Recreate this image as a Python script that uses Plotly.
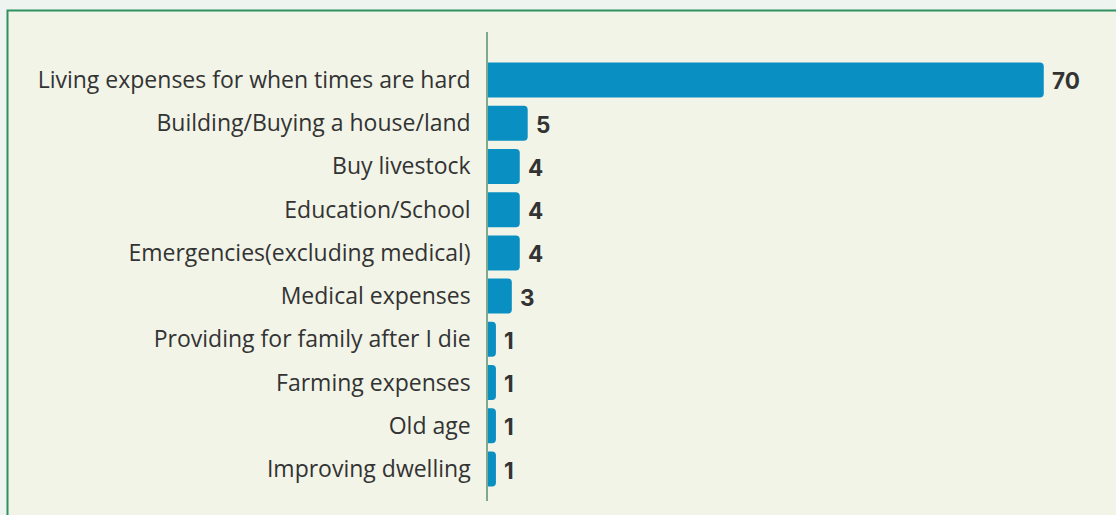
import plotly.graph_objects as go

# Reasons for saving (share of respondents)
categories = [
    "Living expenses for when times are hard",
    "Building/Buying a house/land",
    "Buy livestock",
    "Education/School",
    "Emergencies(excluding medical)",
    "Medical expenses",
    "Providing for family after I die",
    "Farming expenses",
    "Old age",
    "Improving dwelling",
]
values = [70, 5, 4, 4, 4, 3, 1, 1, 1, 1]

BAR_COLOR = "#0a8fc2"
TEXT_COLOR = "#333333"
PANEL_BG = "#f2f4e8"
PAGE_BG = "#eef5f0"
BORDER = "#2f9060"
AXIS_LINE = "#7fa98c"

W, H = 1116, 515
ML, MR, MT, MB = 488, 0, 32, 14

fig = go.Figure()
fig.add_trace(
    go.Bar(
        y=categories,
        x=values,
        orientation="h",
        marker=dict(color=BAR_COLOR, line=dict(width=0)),
        hoverinfo="skip",
    )
)

# Value labels just past the end of each bar
for cat, v in zip(categories, values):
    fig.add_annotation(
        x=v, y=cat, text=f"<b>{v}</b>", showarrow=False,
        xanchor="left", yanchor="middle", xshift=6, yshift=-1,
        font=dict(family="Inter", size=22.5, color=TEXT_COLOR, weight=900),
    )

# Framed panel behind the chart
pw, ph = W - ML - MR, H - MT - MB
fig.add_shape(
    type="rect", xref="paper", yref="paper", layer="below",
    x0=(7.5 - ML) / pw, x1=(W + 20 - ML) / pw,
    y0=-(MB + 20) / ph, y1=1 + (MT - 10.5) / ph,
    fillcolor=PANEL_BG, line=dict(color=BORDER, width=2),
)

fig.update_layout(
    width=W, height=H,
    margin=dict(l=ML, r=MR, t=MT, b=MB),
    paper_bgcolor=PAGE_BG,
    plot_bgcolor="rgba(0,0,0,0)",
    bargap=0.19,
    barcornerradius=4,
    showlegend=False,
    font=dict(family="Open Sans", size=20, color=TEXT_COLOR),
    xaxis=dict(
        range=[0, 79.1], showgrid=False, zeroline=False,
        showticklabels=False, showline=False, fixedrange=True,
    ),
    yaxis=dict(
        type="category", range=[9.74, -1.11], showgrid=False, zeroline=False,
        showline=True, linecolor=AXIS_LINE, linewidth=1.5,
        ticks="", ticklabelstandoff=11,
        tickfont=dict(family="Open Sans", size=23, color=TEXT_COLOR),
        fixedrange=True,
    ),
)

fig.write_html("out.html")
